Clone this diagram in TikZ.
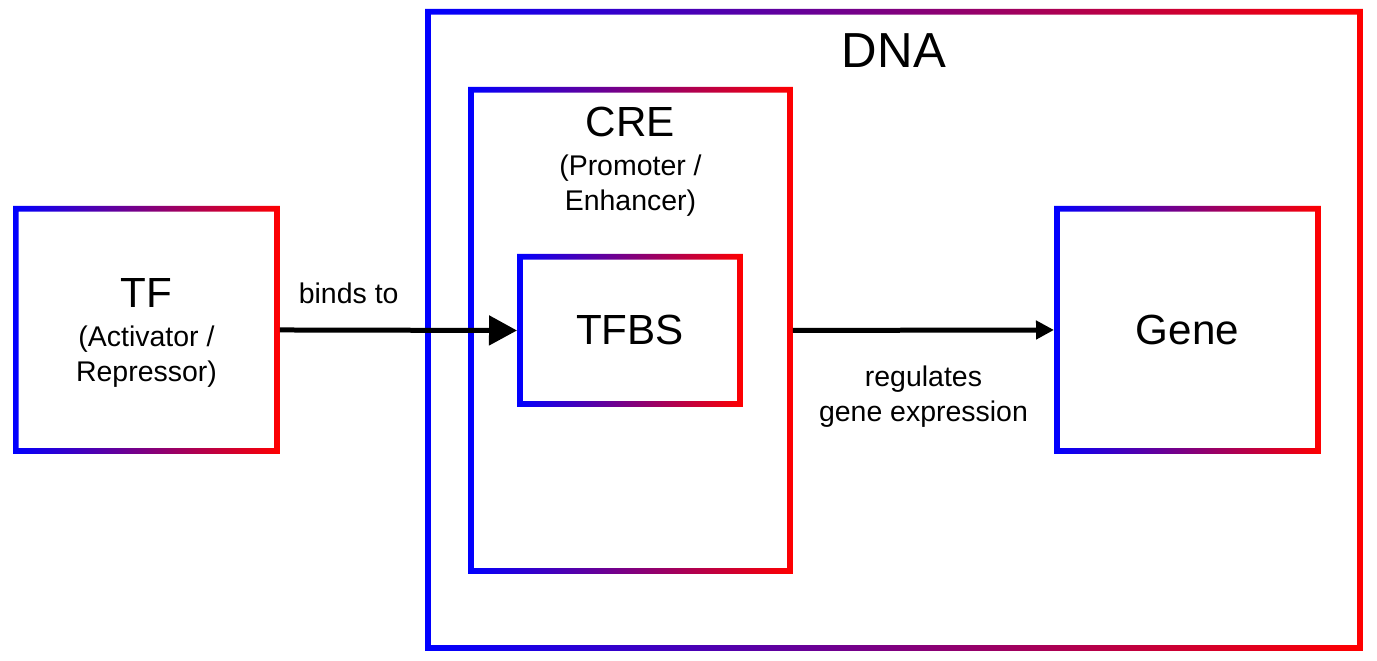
\documentclass[tikz,border=0pt]{standalone}
\usepackage{fontspec}
\setmainfont{Liberation Sans}
\usetikzlibrary{positioning,arrows.meta}

\newcommand{\boxtitlefont}{\fontsize{24}{28}\selectfont}
\newcommand{\boxnotefont}{\fontsize{16.2}{19.8}\selectfont}
\newcommand{\dnatitlefont}{\fontsize{28}{32}\selectfont}

\tikzset{
  gradbox/.style={rectangle, inner sep=0pt, outer sep=0pt, anchor=north west, align=center,
    path picture={\shade[left color=blue, right color=red, even odd rule]
      (path picture bounding box.south west) rectangle (path picture bounding box.north east)
      ([shift={(0.115cm,0.115cm)}]path picture bounding box.south west) rectangle
      ([shift={(-0.115cm,-0.115cm)}]path picture bounding box.north east);}},
  boxlabel/.style={inner sep=0pt, align=center, font=\boxnotefont},
  flow/.style={line width=0.1cm, black},
}

\begin{document}
\begin{tikzpicture}[x=0.02cm, y=-0.02cm]
  \useasboundingbox (0,0) rectangle (1377,661);

  % Boxes
  \node[gradbox, minimum width=18.76cm, minimum height=12.84cm] (dna) at (425,9) {};
  \node[gradbox, minimum width=6.5cm, minimum height=9.74cm] (cre) at (468,87) {};
  \node[gradbox, minimum width=4.52cm, minimum height=3.06cm, font=\boxtitlefont] (tfbs) at (517,254) {TFBS};
  \node[gradbox, minimum width=5.34cm, minimum height=4.96cm, font=\boxnotefont, text depth=0pt] (tf) at (13,206)
    {{\boxtitlefont TF}\\[2.3pt](Activator /\\Repressor)};
  \node[gradbox, minimum width=5.34cm, minimum height=4.96cm, font=\boxtitlefont] (gene) at (1054,206) {Gene};

  % Titles
  \node[inner sep=0pt, font=\dnatitlefont, below=0.48cm of dna.north] (dnalabel) {DNA};
  \node[boxlabel, below=0.4cm of cre.north] (crelabel) {{\boxtitlefont CRE}\\[2.3pt](Promoter /\\Enhancer)};

  % Arrows
  \draw[flow, -{Triangle[length=0.56cm, width=0.58cm]}] (tf.east)
    -- node[boxlabel, pos=0.29, above=0.48cm] (bindslabel) {binds to} (tfbs.west);
  \draw[flow, -{Triangle[length=0.36cm, width=0.36cm]}] (cre.east)
    -- node[boxlabel, below=0.66cm] (reglabel) {regulates\\gene expression} (gene.west);
\end{tikzpicture}
\end{document}
